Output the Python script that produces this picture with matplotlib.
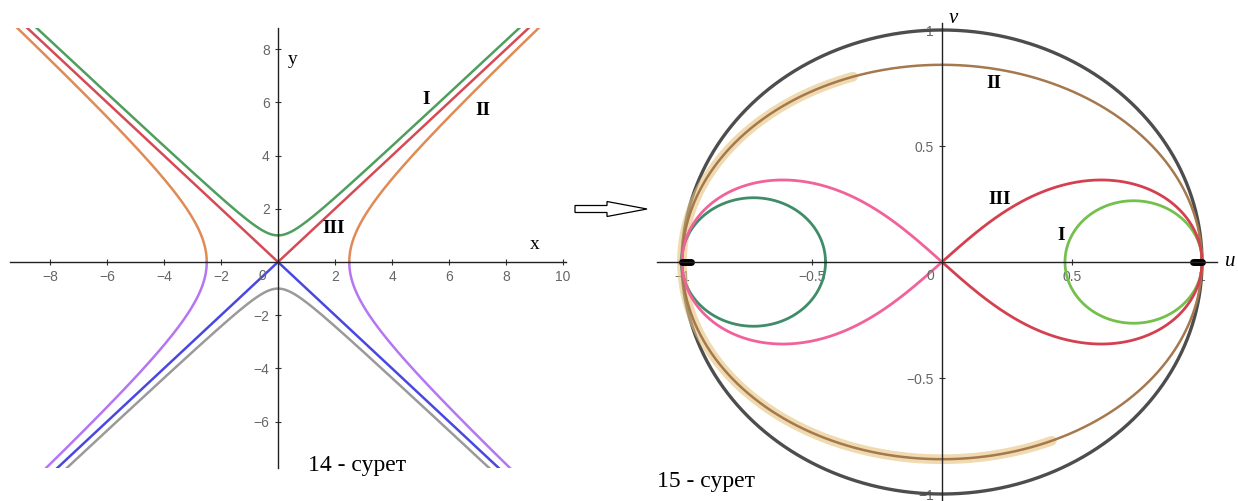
import numpy as np
import matplotlib.pyplot as plt
from matplotlib.patches import FancyArrow

# --- figure 14: hyperbolas and their asymptotes in the x-y plane ---
vertex_I = 1.0        # branches I: vertex at y = +-1 (green above, gray below)
offset_I = 0.3        # branch I runs this far above/below the asymptotes in the drawing
vertex_II = 2.5       # branches II: x^2 - y^2 = a^2 (orange y>0, purple y<0)
left_xticks = [-8, -6, -4, -2, 2, 4, 6, 8, 10]
left_yticks = [-6, -4, -2, 2, 4, 6, 8]

# --- figure 15: images inside the unit disk ---
circle_I_centers = [-0.725, 0.737]
circle_I_radii = [0.277, 0.264]
ellipse_II_height = 0.85
lemniscate_III_size = 1.0
right_ticks = [-1, -0.5, 0.5, 1]

W, H = 1238, 501
fig = plt.figure(figsize=(W / 100, H / 100), dpi=100)


def px_axes(x0, y0, x1, y1):
    return fig.add_axes([x0 / W, 1 - y1 / H, (x1 - x0) / W, (y1 - y0) / H])


def zero_spines(ax):
    ax.spines['left'].set_position(('data', 0))
    ax.spines['bottom'].set_position(('data', 0))
    ax.spines['top'].set_visible(False)
    ax.spines['right'].set_visible(False)
    for s in ('left', 'bottom'):
        ax.spines[s].set_color('#222222')
        ax.spines[s].set_linewidth(1.0)
    ax.tick_params(direction='inout', length=5, width=0.8, color='#333333',
                   labelsize=10, labelcolor='#666666')
    ax.patch.set_alpha(0)


tick_font = 'Liberation Sans'
serif = 'Liberation Serif'

# ---------------- left panel ----------------
axL = px_axes(10, 28, 566, 468)
axL.set_xlim((10 - 278) / 28.5, (566 - 278) / 28.5)
axL.set_ylim((262 - 468) / 26.6, (262 - 28) / 26.6)
zero_spines(axL)

xs = np.linspace(-10, 10.5, 800)
branch_I = offset_I + np.sqrt(xs ** 2 + (vertex_I - offset_I) ** 2)
axL.plot(xs, branch_I, color='#4e9e5e', lw=1.8)
axL.plot(xs, -branch_I, color='#9a9a9a', lw=1.8)
axL.plot(xs, np.abs(xs), color='#d64a55', lw=1.8)
axL.plot(xs, -np.abs(xs), color='#4848e0', lw=1.8)

ys = np.linspace(0, 10, 400)
xb = np.sqrt(ys ** 2 + vertex_II ** 2)
for sgn in (1, -1):
    axL.plot(sgn * xb, ys, color='#e08a55', lw=1.8)
    axL.plot(sgn * xb, -ys, color='#b576f2', lw=1.8)

axL.set_xticks(left_xticks)
axL.set_yticks(left_yticks)
for lab in axL.get_xticklabels() + axL.get_yticklabels():
    lab.set_fontfamily(tick_font)
axL.text(-0.55, -0.25, '0', fontsize=10, color='#666666', family=tick_font,
         ha='center', va='top')
axL.text(9.0, 0.35, 'x', fontsize=14, family=serif, ha='center', va='bottom')
axL.text(0.35, 7.6, 'y', fontsize=14, family=serif, ha='left', va='center')

axL.text(5.2, 6.1, 'I', fontsize=14, family=serif, weight='bold', ha='center', va='center')
axL.text(7.2, 5.7, 'II', fontsize=14, family=serif, weight='bold', ha='center', va='center')
axL.text(1.95, 1.25, 'III', fontsize=14, family=serif, weight='bold', ha='center', va='center')

# ---------------- right panel ----------------
axR = px_axes(657, 23, 1217, 501)
axR.set_xlim((657 - 942) / 260, (1217 - 942) / 260)
axR.set_ylim((262 - 501) / 232, (262 - 23) / 232)
zero_spines(axR)

t = np.linspace(0, 2 * np.pi, 600)
axR.plot(np.cos(t), np.sin(t), color='#4d4d4d', lw=2.4, clip_on=False)

# II: ellipse-like curve with a gold shading along part of it
tu = np.linspace(np.radians(110), np.pi, 200)
axR.plot(np.cos(tu), ellipse_II_height * np.sin(tu), color='#e6c47e', lw=7, alpha=0.6,
         solid_capstyle='round')
tl = np.linspace(np.pi, np.radians(295), 300)
axR.plot(np.cos(tl), ellipse_II_height * np.sin(tl), color='#e6c47e', lw=7, alpha=0.6,
         solid_capstyle='round')
axR.plot(np.cos(t), ellipse_II_height * np.sin(t), color='#a5784e', lw=1.8)

# I: two circles
i_colors = ['#3f8c68', '#74c04c']
for c, r, col in zip(circle_I_centers, circle_I_radii, i_colors):
    axR.plot(c + r * np.cos(t), r * np.sin(t), color=col, lw=2.0)

# III: lemniscate
a = lemniscate_III_size
tr = np.linspace(-np.pi / 2, np.pi / 2, 300)
tlft = np.linspace(np.pi / 2, 3 * np.pi / 2, 300)
for tt, col in ((tr, '#d4404f'), (tlft, '#f2629a')):
    den = 1 + np.sin(tt) ** 2
    axR.plot(a * np.cos(tt) / den, a * np.sin(tt) * np.cos(tt) / den, color=col, lw=2.0)

# end points on the u axis
axR.plot([-1.0, -0.965], [0, 0], color='black', lw=5, solid_capstyle='round', clip_on=False)
axR.plot([0.965, 1.0], [0, 0], color='black', lw=5, solid_capstyle='round', clip_on=False)

axR.set_xticks(right_ticks)
axR.set_xticklabels(['−1', '−0.5', '0.5', '1'])
axR.set_yticks(right_ticks)
axR.set_yticklabels(['−1', '−0.5', '0.5', '1'])
for lab in axR.get_xticklabels() + axR.get_yticklabels():
    lab.set_fontfamily(tick_font)
    lab.set_fontsize(10)
axR.text(-0.045, -0.03, '0', fontsize=10, color='#666666', family=tick_font,
         ha='center', va='top')
axR.text(1.09, 0.0, 'u', fontsize=15, family=serif, style='italic', ha='left', va='center',
         clip_on=False)
axR.text(0.025, 1.05, 'v', fontsize=15, family=serif, style='italic', ha='left', va='center',
         clip_on=False)

axR.text(0.2, 0.77, 'II', fontsize=14, family=serif, weight='bold', ha='center', va='center')
axR.text(0.22, 0.27, 'III', fontsize=14, family=serif, weight='bold', ha='center', va='center')
axR.text(0.46, 0.115, 'I', fontsize=14, family=serif, weight='bold', ha='center', va='center')

# ---------------- captions and arrow ----------------
fig.text(357 / W, 1 - 466 / H, '14 - сурет', fontsize=17, family=serif,
         ha='center', va='center')
fig.text(657 / W, 1 - 482 / H, '15 - сурет', fontsize=17, family=serif,
         ha='left', va='center')

arrow = FancyArrow(575 / W, 1 - 209 / H, 72 / W, 0, width=7 / H, head_width=15 / H,
                   head_length=40 / W, length_includes_head=True,
                   transform=fig.transFigure, fc='white', ec='black', lw=0.9)
fig.patches.append(arrow)

fig.savefig('out.png', dpi=100)
